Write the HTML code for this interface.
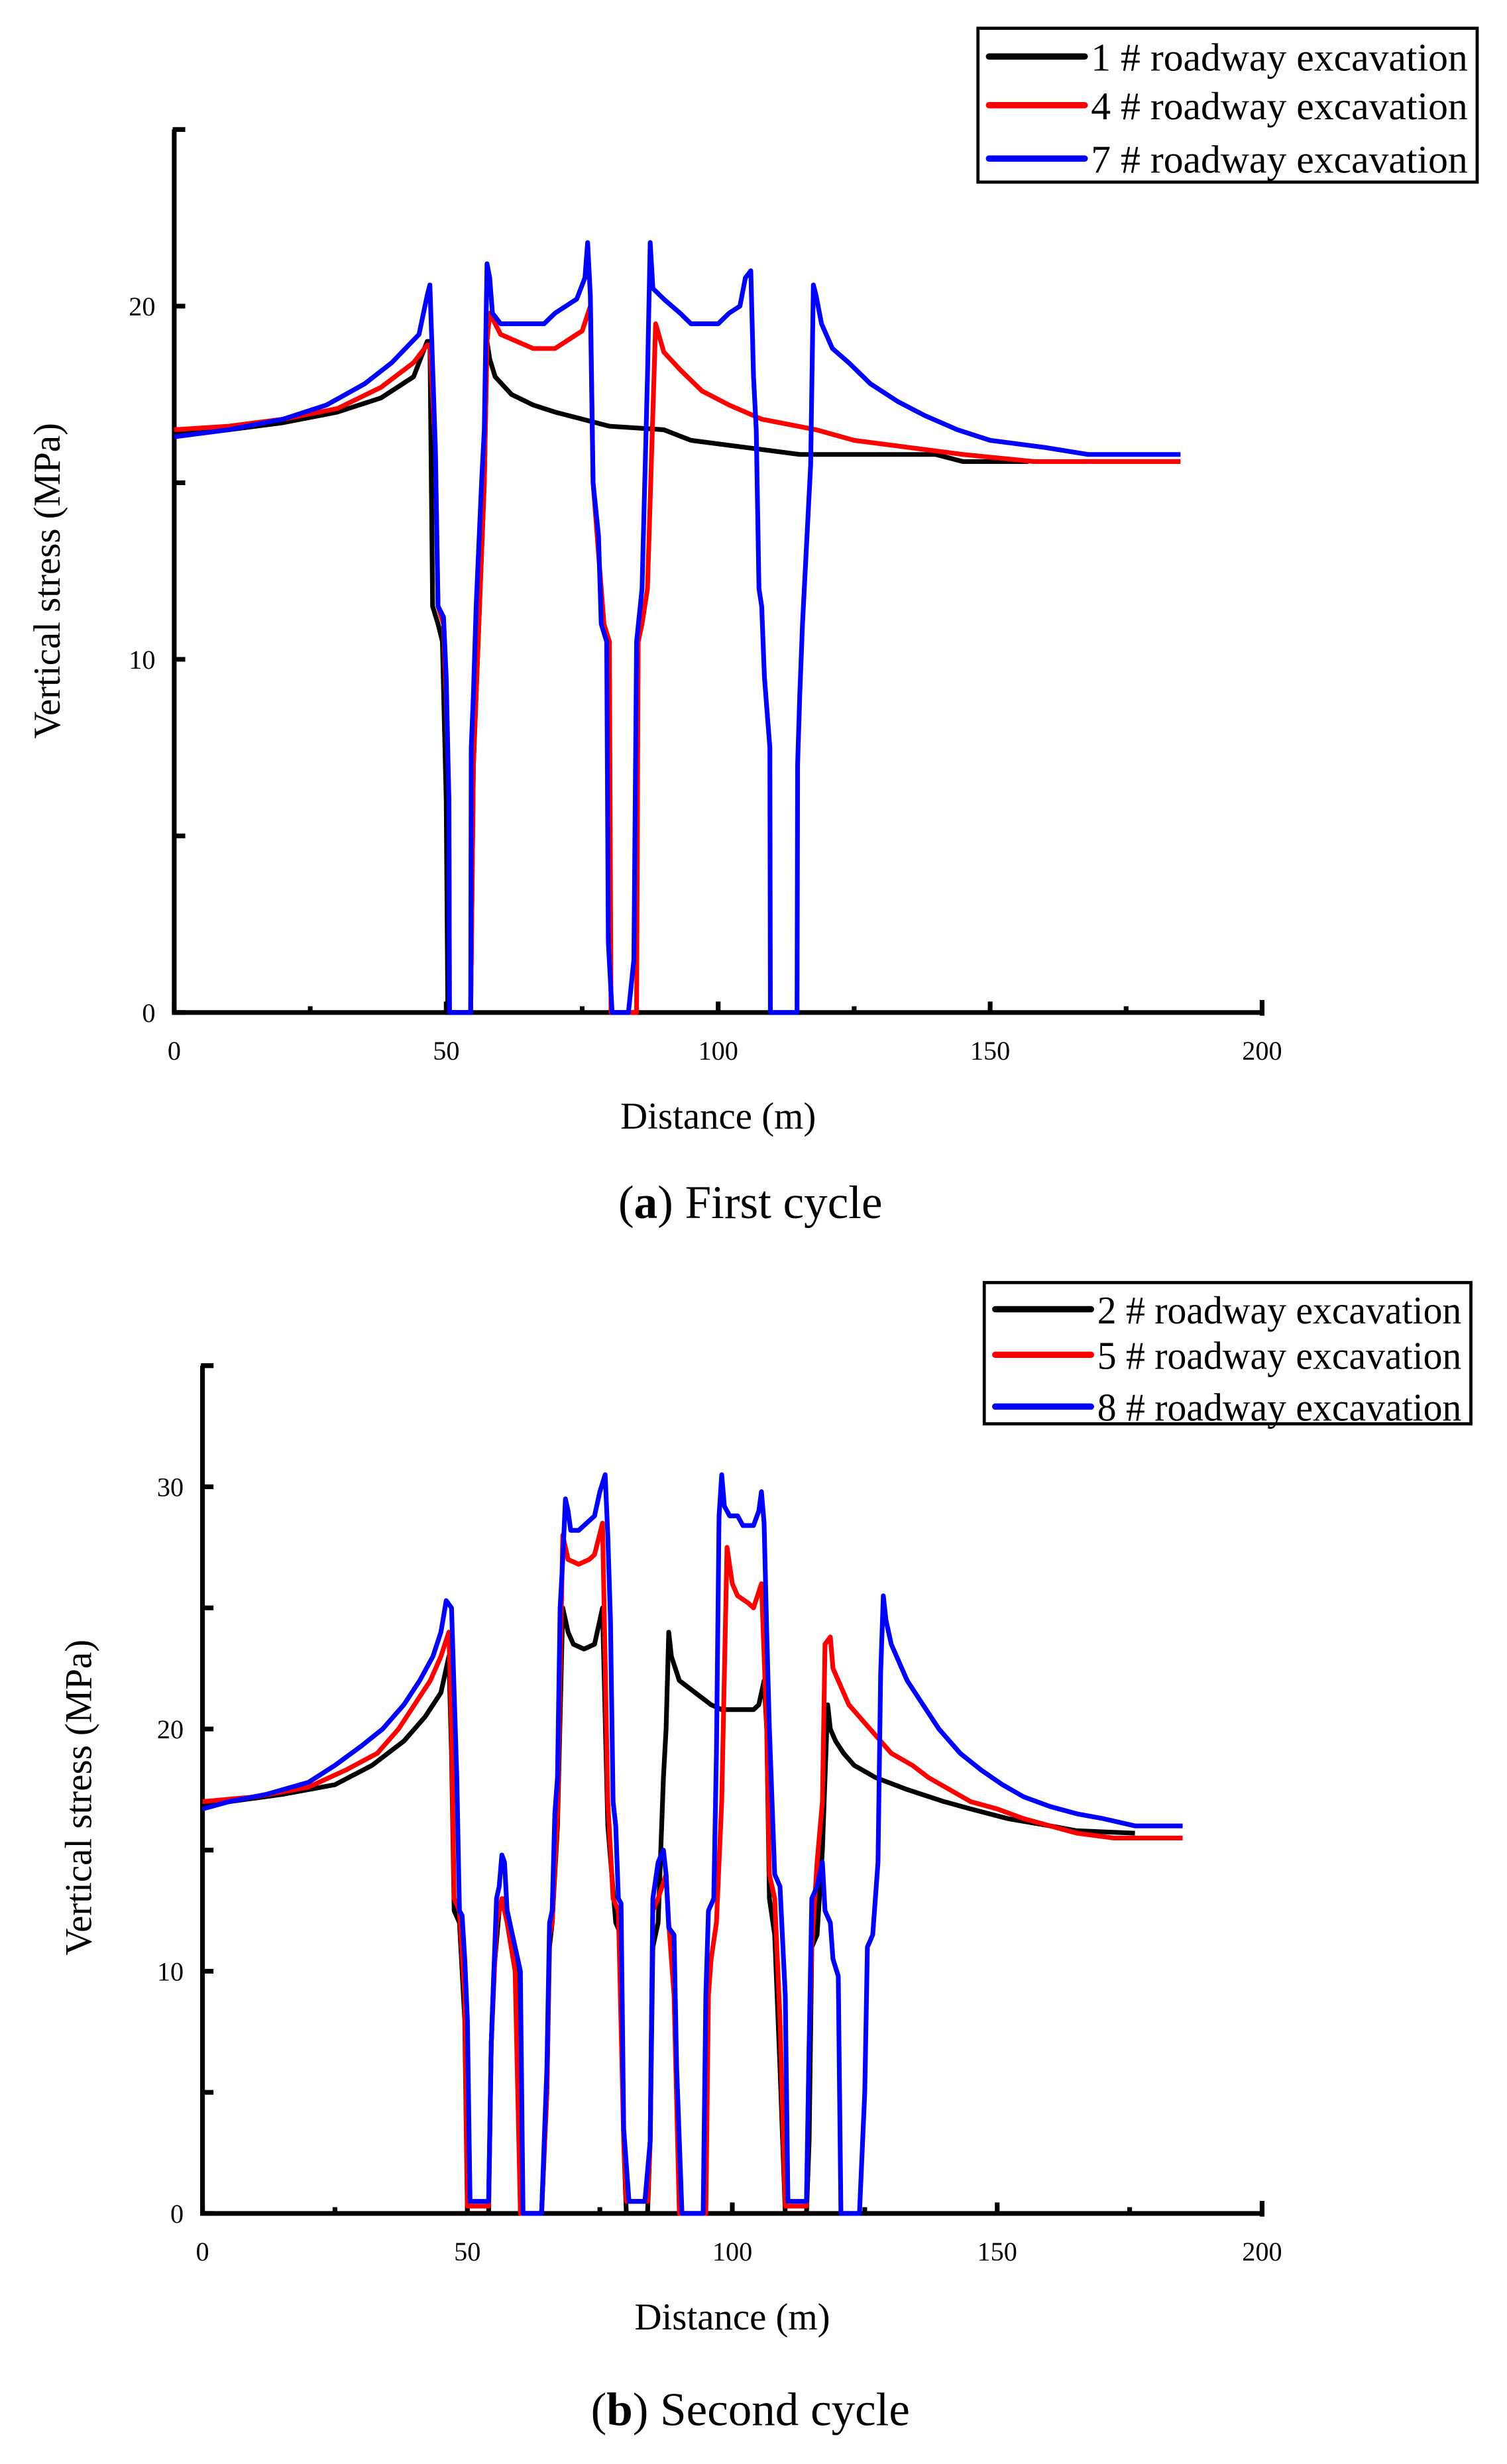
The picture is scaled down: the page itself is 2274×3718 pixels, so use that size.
<!DOCTYPE html>
<html><head><meta charset="utf-8"><style>
html,body{margin:0;padding:0;background:#fff;}
svg{display:block;font-family:"Liberation Serif",serif;}
</style></head><body>
<svg id="fig" width="2274" height="3718" viewBox="0 0 960 1569.6" xmlns="http://www.w3.org/2000/svg">
<rect x="0" y="0" width="960" height="1569.6" fill="#fff"/>
<g id="c1"></g>
<g id="c2"></g>
<text x="478" y="776" font-size="30" text-anchor="middle">(<tspan font-weight="bold">a</tspan>) First cycle</text>
<text x="478" y="1545" font-size="30" text-anchor="middle">(<tspan font-weight="bold">b</tspan>) Second cycle</text>
</svg>
<script>
// ---- Chart (a) data ----
const a_black_x=[0,10,20,30,38,44,46.5,47,47.5,48.5,49.3,50,50.3,54.5,55,56,57,57.5,58,59,62,66,70,75,80,90,95,105,115,140,145,157];
const a_black_y=[16.4,16.5,16.7,17,17.4,18,19,19,11.5,11,10.5,6,0,0,7,11,15,19,18.5,18,17.5,17.2,17,16.8,16.6,16.5,16.2,16,15.8,15.8,15.6,15.6];
const a_red_x=[0,10,20,30,38,44,46.5,47,48,48.5,49.5,50,50.5,50.6,54.5,55,56,57,57.5,58,60,63,66,70,72,75,76.5,77,78,79,80,80.3,85,85.3,86,87,88.5,90,93,97,102,108,118,125,135,145,158,185];
const a_red_y=[16.5,16.6,16.8,17.1,17.7,18.4,18.9,18.9,16,11.5,11,9,6,0,0,7,11,15,19,19.8,19.2,19,18.8,18.8,19,19.3,20,15,13,11,10.5,0,0,10.5,11,12,19.5,18.7,18.2,17.6,17.2,16.8,16.5,16.2,16,15.8,15.6,15.6];
const a_blue_x=[0,10,20,28,35,40,45,46.5,47,48,48.5,49.5,50,50.5,50.6,54.5,54.6,55,55.5,56.5,57,57.5,58,58.5,60,68,70,74,75.5,76,76.5,77,78,78.5,79.5,79.8,80.5,83.5,84.5,85,86,87,87.5,88,90,93,95,100,102,104,105,106,106.5,107,107.5,108,108.5,109.5,109.6,114.5,114.6,115,115.5,116.5,117,117.5,118,119,121,124,128,133,138,144,150,160,168,185];
const a_blue_y=[16.3,16.5,16.8,17.2,17.8,18.4,19.2,20.3,20.6,16,11.5,11.2,9.5,6,0,0,7.5,9,11.5,15,16.5,21.2,20.8,19.8,19.5,19.5,19.8,20.2,20.8,21.8,20.3,15,13.5,11,10.5,2,0,0,1.5,10.5,12,18,21.8,20.5,20.2,19.8,19.5,19.5,19.8,20,20.8,21,18,16.5,12,11.5,9.5,7.5,0,0,7,9,11,14,15.5,20.6,20.3,19.5,18.8,18.4,17.8,17.3,16.9,16.5,16.2,16,15.8,15.8];
const a_xticks=[0,50,100,150,200];
const a_yticks=[0,10,20];
// ---- Chart (b) data ----
const b_black_x=[0,5,15,25,32,38,42,45,46.5,47,47.5,48.5,49.5,50,54,54.5,55,56,57,58,59.5,60,64,65,65.5,66,67,68,69,70,72,74,75,75.5,76.5,78,79,79.5,80,84,84.5,85,86,87,87.5,88,88.5,90,93,96,98,104,105,106,106.5,107,108,109,110,114,114.5,115,116,117,118,118.5,119.5,121,123,127,133,140,145,152,160,165,176];
const b_black_y=[16.8,17,17.3,17.7,18.5,19.5,20.5,21.5,23,19,12.5,12,8,0,0,7,10,12.5,13,12,10,0,0,5,11,12,16,25,24,23.5,23.3,23.5,24.5,25,16,12,11.5,3,0,0,3,11,12,18,20,24,23,22,21.5,21,20.8,20.8,21,22,20,13,11.5,6,0,0,3,11,11.5,15,21,20,19.5,19,18.5,18,17.5,17,16.7,16.3,16,15.8,15.7];
const b_red_x=[0,10,20,27,33,37,40,43,45,46.5,47,47.5,48.5,49.5,50,54,54.5,55.5,56.5,57.5,59,60,64,65,65.5,66,67,68,69,71,73,74,75.5,76.5,77.5,78.5,79.5,80,84,84.5,85,86,87.5,88,89,90,95,95.5,96,97,98,99,100,101,103,104,105.5,106.5,107,108,109,110,114,114.5,115,116,117,117.5,118.5,119,120,122,126,130,134,137,141,145,150,155,160,165,172,185];
const b_red_y=[17,17.2,17.6,18.3,19,20,21,22,23,24,20,13,12.5,9,0.3,0.3,7,12,13,12,10,0,0,5,11.5,12,16.5,28,27,26.8,27,27.2,28.5,17,13,12.5,3,0.5,0.5,3,12.5,13,14,12,9,0,0,9,10.5,12,17,27.5,26,25.5,25.2,25,26,20,14,13,8,0.3,0.3,7,11,14.5,17,23.5,23.8,22.5,22,21,20,19,18.5,18,17.5,17,16.7,16.3,16,15.7,15.5,15.5];
const b_blue_x=[0,5,12,20,25,30,34,38,41,43.5,45,46,47,48,48.5,49,49.5,50,50.5,54,54.5,55.5,56,56.5,57,57.5,58,59,60,60.5,64,65,65.5,66,66.5,67,67.5,68,68.5,69,69.5,71,72.5,74,75,76,76.5,77,77.5,78,78.5,79,79.5,80.5,83.5,84.5,85,86,87,87.5,88,89,89.5,90.5,94.5,95,95.5,96.5,97,97.5,98,98.5,99.5,101,102,104,105,105.5,106,106.5,107,108,109,110,110.5,114,114.5,115,116,117,117.5,118.5,119,120,120.5,124,125,125.5,126.5,127,127.5,128,128.5,129,130,131,133,136,139,143,147,151,155,160,165,170,176,185];
const b_blue_y=[16.7,17,17.3,17.8,18.5,19.3,20,21,22,23,24,25.3,25,18,12.5,12.3,10.5,8,0.5,0.5,7,13,13.5,14.8,14.5,12.5,12,11,10,0,0,6,12,12.5,16.5,18,25,27,29.5,29,28.2,28.2,28.5,28.8,29.8,30.5,28,24.5,17,16,13,12.8,3.5,0.5,0.5,3,13,14.5,15,14,11.8,11.5,6,0,0,9,12.5,13,19,28.8,30.5,29.2,28.8,28.8,28.4,28.4,29,29.8,28.5,24,20,14,13.5,9,0.5,0.5,7,13,13.5,14.5,12.5,12,10.5,9.8,0,0,5,11,11.5,13,14.5,22.3,25.5,24.5,23.5,23,22,21,20,19,18.3,17.7,17.2,16.8,16.5,16.3,16,16];
const b_xticks=[0,50,100,150,200];
const b_yticks=[0,10,20,30];

const NS="http://www.w3.org/2000/svg";
function mk(parent,tag,attrs){const e=document.createElementNS(NS,tag);for(const k in attrs)e.setAttribute(k,attrs[k]);parent.appendChild(e);return e;}

function drawChart(g,cfg){
  const X=v=>cfg.x0+(v-0)*(cfg.x1-cfg.x0)/200;
  const Y=v=>cfg.y0-v*cfg.py;
  const ax=mk(g,'path',{d:`M${X(0)} ${Y(cfg.ymax)} V${Y(0)} H${X(200)}`,fill:'none',stroke:'#000','stroke-width':3});
  
  
  for(let v=0;v<=cfg.ymax;v+=5){
    const t=mk(g,'line',{x1:X(0),x2:X(0)+7,y1:Y(v),y2:Y(v),stroke:'#000','stroke-width':3});
    
    
  }
  mk(g,'line',{x1:X(0)-1,x2:X(0)+7,y1:Y(cfg.ymax),y2:Y(cfg.ymax),stroke:'#000','stroke-width':3});
  cfg.yticks.forEach(v=>{
    const t=mk(g,'text',{x:X(0)-12,y:Y(v)+6,'font-size':17,'text-anchor':'end'});
    t.textContent=v;
    
    
  });
  for(let v=0;v<=200;v+=25){
    const t=mk(g,'line',{x1:X(v),x2:X(v),y1:Y(0),y2:Y(0)-(v%50===0?7:4),stroke:'#000','stroke-width':3});
    
    
  }
  mk(g,'line',{x1:X(200),x2:X(200),y1:Y(0)+2,y2:Y(0)-8,stroke:'#000','stroke-width':3});
  cfg.xticks.forEach(v=>{
    const t=mk(g,'text',{x:X(v),y:Y(0)+30,'font-size':17,'text-anchor':'middle'});
    t.textContent=v;
    
    
  });
  const xt=mk(g,'text',{x:(X(0)+X(200))/2+cfg.xtOff,y:Y(0)+74,'font-size':24,'text-anchor':'middle'});
  xt.textContent='Distance (m)';
  
  
  const yt=mk(g,'text',{x:0,y:0,'font-size':24,'text-anchor':'middle',transform:`translate(${cfg.ytx},${cfg.yty}) rotate(-90)`});
  yt.textContent='Vertical stress (MPa)';
  
  
  cfg.series.forEach(s=>{
    const d=s.x.map((v,i)=>(i?'L':'M')+X(v).toFixed(2)+' '+Y(s.y[i]).toFixed(2)).join(' ');
    const p=mk(g,'path',{d:d,fill:'none',stroke:s.c,'stroke-width':3,'stroke-linejoin':'round'});
    
    
  });
  const L=cfg.leg;
  const lg=mk(g,'g',{});
  
  
  mk(lg,'rect',{x:L.x,y:L.y,width:L.w,height:L.h,fill:'#fff',stroke:'#000','stroke-width':2});
  cfg.series.forEach((s,i)=>{
    const ey=L.rows[i];
    const e=mk(lg,'g',{});
    
    
    mk(e,'line',{x1:L.x+7,x2:L.x+68,y1:ey,y2:ey,stroke:s.c,'stroke-width':4,'stroke-linecap':'round'});
    const t=mk(e,'text',{x:L.x+72,y:ey+9,'font-size':25,textLength:L.w-78,lengthAdjust:'spacingAndGlyphs'});
    t.textContent=s.label;
  });
}

drawChart(document.getElementById('c1'),{x0:111,x1:804,y0:645,py:22.5,ymax:25,xticks:a_xticks,yticks:a_yticks,
  ytx:38,yty:370,xtOff:0,
  leg:{x:623,y:18,w:318,h:98,rows:[36,67,101]},
  series:[
    {x:a_black_x,y:a_black_y,c:'#000',name:'line-1-roadway',label:'1 # roadway excavation'},
    {x:a_red_x,y:a_red_y,c:'#ff0000',name:'line-4-roadway',label:'4 # roadway excavation'},
    {x:a_blue_x,y:a_blue_y,c:'#0000ff',name:'line-7-roadway',label:'7 # roadway excavation'}]});
drawChart(document.getElementById('c2'),{x0:129,x1:804,y0:1410,py:15.43,ymax:35,xticks:b_xticks,yticks:b_yticks,
  ytx:58,yty:1145,xtOff:0,
  leg:{x:627,y:817,w:310,h:90,rows:[834,863,896]},
  series:[
    {x:b_black_x,y:b_black_y,c:'#000',name:'line-2-roadway',label:'2 # roadway excavation'},
    {x:b_red_x,y:b_red_y,c:'#ff0000',name:'line-5-roadway',label:'5 # roadway excavation'},
    {x:b_blue_x,y:b_blue_y,c:'#0000ff',name:'line-8-roadway',label:'8 # roadway excavation'}]});
</script>
</body></html>
